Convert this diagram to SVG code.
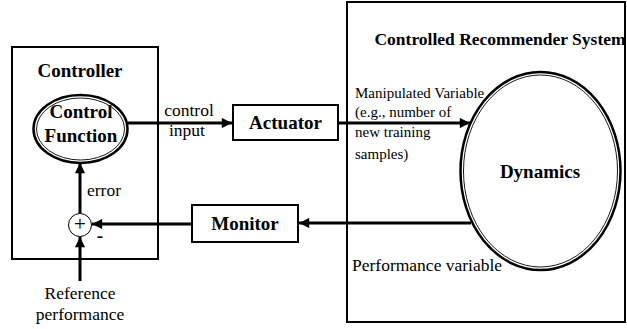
<svg xmlns="http://www.w3.org/2000/svg" width="627" height="329" viewBox="0 0 627 329" font-family="'Liberation Serif', Tinos, 'Times New Roman', Times, 'DejaVu Serif', 'Noto Serif', serif">
<defs>
<marker id="arr" viewBox="0 0 10 10" refX="10" refY="5" markerWidth="4" markerHeight="3.4" orient="auto" markerUnits="strokeWidth">
<path d="M0,0 L10,5 L0,10 z" fill="#000"/>
</marker>
<style>
text{font-family:'Liberation Serif', Tinos, 'Times New Roman', Times, 'DejaVu Serif', 'Noto Serif', serif;fill:#000}
.b{font-weight:bold;font-size:19px}
.t{font-weight:bold;font-size:17.5px}
.r{font-size:17.5px}
.s{font-size:15px}
.box{fill:#fff;stroke:#000;stroke-width:2}
.outer{fill:#fff;stroke:#000;stroke-width:2.5}
.inner{fill:none;stroke:#000;stroke-width:0.9}
.conh{fill:none;stroke:#000;stroke-width:3;marker-end:url(#arr)}
</style>
</defs>
<rect width="627" height="329" fill="#fff"/>
<g id="controller">
<rect class="box" x="12" y="47" width="146" height="212"/>
<text class="b" x="80" y="77" text-anchor="middle">Controller</text>
</g>
<g id="system">
<rect class="box" x="347" y="2" width="278" height="320"/>
<text class="t" x="500" y="45" text-anchor="middle">Controlled Recommender System</text>
</g>
<g id="control-function">
<ellipse class="outer" cx="80.5" cy="129" rx="47" ry="34"/>
<ellipse class="inner" cx="80.5" cy="129" rx="44" ry="31"/>
<text class="b" x="81" y="118" text-anchor="middle">Control</text>
<text class="b" x="81" y="142" text-anchor="middle">Function</text>
</g>
<g id="actuator">
<rect class="box" x="233" y="105" width="105" height="35"/>
<text class="b" x="285.5" y="129" text-anchor="middle">Actuator</text>
</g>
<g id="dynamics">
<ellipse class="outer" cx="540.5" cy="171" rx="80" ry="99"/>
<ellipse class="inner" cx="540.5" cy="171" rx="77" ry="96"/>
<text class="b" x="540" y="178" text-anchor="middle">Dynamics</text>
</g>
<g id="monitor">
<rect class="box" x="192" y="205" width="106" height="37"/>
<text class="b" x="245" y="230" text-anchor="middle">Monitor</text>
</g>
<g id="sum">
<circle cx="80" cy="225" r="11.5" fill="#fff" stroke="#000" stroke-width="1"/>
<text x="80" y="231" font-size="21" text-anchor="middle">+</text>
<text class="b" x="100" y="242" text-anchor="middle">-</text>
</g>
<g id="connectors">
<line class="conh" x1="128" y1="123" x2="232" y2="123"/>
<line class="conh" x1="338" y1="123" x2="470" y2="123"/>
<line class="conh" x1="471" y1="223" x2="299" y2="223"/>
<line class="conh" x1="192" y1="224" x2="92" y2="224"/>
<line class="conh" x1="80" y1="213" x2="80" y2="163"/>
<line class="conh" x1="80" y1="281" x2="80" y2="237"/>
</g>
<g id="labels">
<text class="r" x="189" y="116" text-anchor="middle">control</text>
<text class="r" x="187" y="136" text-anchor="middle">input</text>
<text class="r" x="87" y="196">error</text>
<text class="r" x="80" y="299" text-anchor="middle">Reference</text>
<text class="r" x="80" y="320" text-anchor="middle">performance</text>
<text class="s" x="355" y="98">Manipulated Variable</text>
<text class="s" x="355" y="117">(e.g., number of</text>
<text class="s" x="355" y="137">new training</text>
<text class="s" x="355" y="159">samples)</text>
<text class="r" x="352" y="271">Performance variable</text>
</g>
</svg>
